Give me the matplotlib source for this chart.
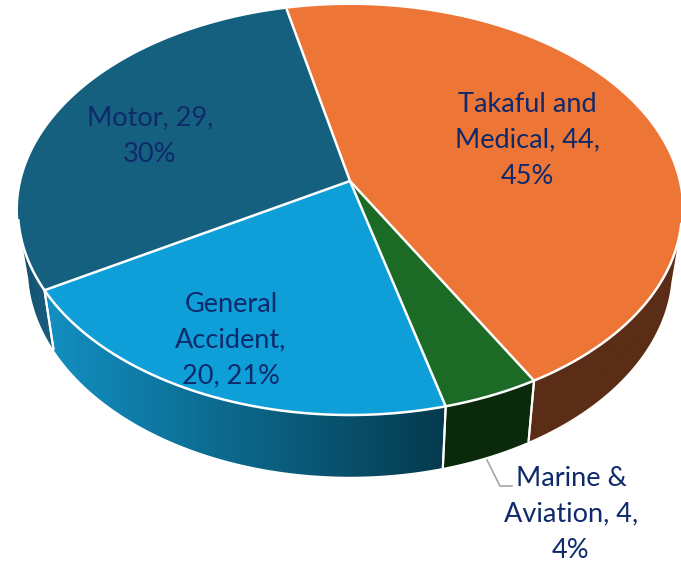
import numpy as np
import matplotlib
matplotlib.use("Agg")
import matplotlib.pyplot as plt
from matplotlib.colors import LinearSegmentedColormap
from matplotlib.patches import Polygon

categories = ["Takaful and Medical", "Marine & Aviation", "General Accident", "Motor"]
values = [44, 4, 20, 29]
percents = [45, 4, 21, 30]
label_text = ["Takaful and\nMedical, 44,\n45%", "Marine &\nAviation, 4,\n4%",
              "General\nAccident,\n20, 21%", "Motor, 29,\n30%"]
label_pos = [(527, 140), (571, 514), (231, 340), (150, 136)]
top_colors = ["#ED7535", "#1B6B27", "#0F9FD8", "#16607F"]
wall_left = ["#5B2D16", "#0B2A0C", "#1290C2", "#124F6B"]
wall_right = ["#5B2D16", "#0B2A0C", "#053A4E", "#1A5F7E"]
text_color = "#0E2A6B"

CX, CY = 350.0, 181.0
R, A, K = 328.7, 200.9, 0.1415
DEPTH, SHRINK, SHRINK_Y = 58.0, 0.97, 1.016
START = -12.7
WALL_FROM, WALL_TO = 102.0, 259.0


def rim(theta, lower=False):
    t = np.radians(theta)
    X, Y = np.sin(t), np.cos(t)
    d = 1 + K * Y
    x, y = R * X / d, -A * Y / d
    if lower:
        return CX + SHRINK * x, CY + DEPTH + SHRINK_Y * y
    return CX + x, CY + y


fig = plt.figure(figsize=(6.81, 5.62), dpi=100)
ax = fig.add_axes([0, 0, 1, 1])
ax.axis("off")

fracs = np.array(values) / sum(values)
edges = START + 360 * np.concatenate([[0], np.cumsum(fracs)])

# side walls
for i in range(len(values)):
    a, b = max(edges[i], WALL_FROM), min(edges[i + 1], WALL_TO)
    if b <= a:
        continue
    th = np.linspace(a, b, 120)
    ux, uy = rim(th)
    lx, ly = rim(th, True)
    pts = np.column_stack([np.r_[ux, lx[::-1]], np.r_[uy, ly[::-1]]])
    poly = Polygon(pts, closed=True, fc="none", ec="none", transform=ax.transData)
    ax.add_patch(poly)
    cmap = LinearSegmentedColormap.from_list("w", [wall_left[i], wall_right[i]])
    im = ax.imshow(np.linspace(0, 1, 256)[None, :], cmap=cmap, aspect="auto",
                   extent=(pts[:, 0].min(), pts[:, 0].max(), pts[:, 1].max(), pts[:, 1].min()),
                   zorder=1, interpolation="bilinear")
    im.set_clip_path(poly)
    # white divider at slice boundaries
    for e in (a, b):
        if e in (WALL_FROM, WALL_TO):
            continue
        x0, y0 = rim(e)
        x1, y1 = rim(e, True)
        ax.plot([x0, x1], [y0, y1], color="white", lw=1.5, zorder=2, solid_capstyle="butt")

# top faces
for i in range(len(values)):
    th = np.linspace(edges[i], edges[i + 1], 300)
    ux, uy = rim(th)
    ax.fill(np.r_[CX, ux], np.r_[CY, uy], fc=top_colors[i], ec="none", zorder=3)
for i in range(len(values)):
    x0, y0 = rim(edges[i])
    ax.plot([CX, x0], [CY, y0], color="white", lw=1.8, zorder=4, solid_capstyle="butt")
# white rim only above the walls
th = np.linspace(WALL_FROM, WALL_TO, 500)
ux, uy = rim(th)
ax.plot(ux, uy, color="white", lw=1.8, zorder=4)

# leader line of the small slice
ax.plot([487, 500, 512], [460, 486, 486], color="#A6A6A6", lw=1.2, zorder=2)

for txt, (x, y) in zip(label_text, label_pos):
    ax.text(x, y, txt, ha="center", va="center", color=text_color, fontsize=19.5,
            family="Lato", linespacing=1.55, zorder=5)

ax.set_xlim(0, 681)
ax.set_ylim(562, 0)
fig.savefig("out.png", dpi=100, facecolor="white")
